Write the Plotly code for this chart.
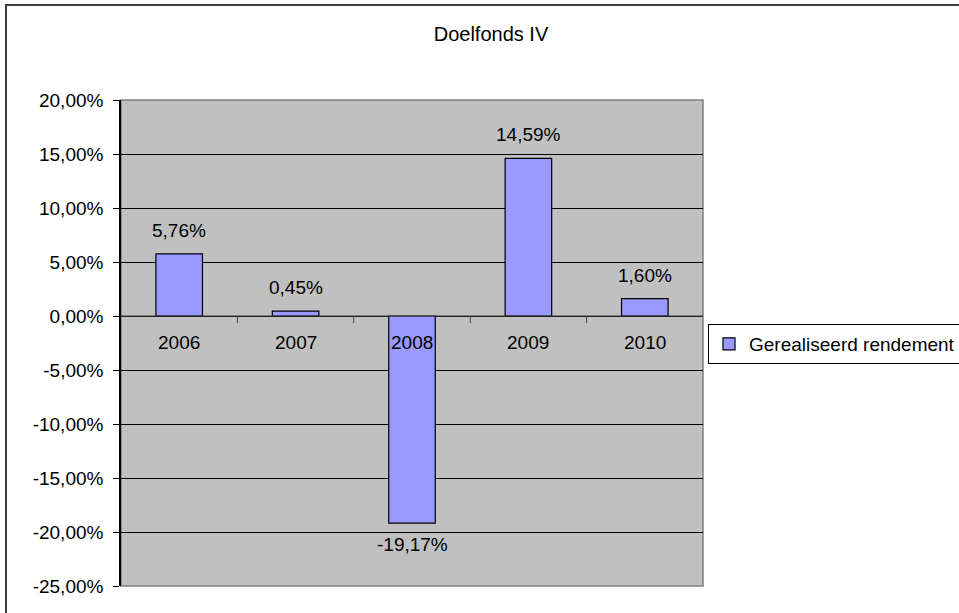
import plotly.graph_objects as go

categories = ["2006", "2007", "2008", "2009", "2010"]
values = [5.76, 0.45, -19.17, 14.59, 1.60]
series_name = "Gerealiseerd rendement"
title_text = "Doelfonds IV"
y_ticks = [20, 15, 10, 5, 0, -5, -10, -15, -20, -25]


def pct(v):
    return f"{v:.2f}".replace(".", ",") + "%"


y_tick_text = [pct(v) for v in y_ticks]
value_text = [pct(v) for v in values]

FONT = "Liberation Sans, Arial, sans-serif"
FS = 19
W, H = 959, 613
L, R, T, B = 121, 256, 100, 27
pw, ph = W - L - R, H - T - B

fig = go.Figure()
fig.add_trace(go.Bar(
    x=list(range(len(categories))), y=values, name=series_name,
    marker=dict(color="#9999FF", line=dict(color="black", width=1.2)),
    width=0.4, showlegend=True, hoverinfo="skip",
))

annotations = []
# category labels just below the zero line
for i, c in enumerate(categories):
    annotations.append(dict(x=i, y=0, xref="x", yref="y", text=c, showarrow=False,
                            yanchor="top", yshift=-14,
                            font=dict(family=FONT, size=FS, color="black")))
# data labels
for i, (v, t) in enumerate(zip(values, value_text)):
    if v >= 0:
        annotations.append(dict(x=i, y=v, xref="x", yref="y", text=t, showarrow=False,
                                yanchor="bottom", yshift=11,
                                font=dict(family=FONT, size=FS, color="black")))
    else:
        annotations.append(dict(x=i, y=v, xref="x", yref="y", text=t, showarrow=False,
                                yanchor="top", yshift=-9,
                                font=dict(family=FONT, size=FS, color="black")))

shapes = []
# plot-area border (gray)
shapes.append(dict(type="rect", xref="paper", yref="paper", x0=0, x1=1, y0=0, y1=1,
                   line=dict(color="#808080", width=1.5), layer="below"))
# zero line
shapes.append(dict(type="line", xref="paper", yref="y", x0=0, x1=1, y0=0, y1=0,
                   line=dict(color="#404040", width=1.2), layer="above"))
# category-boundary ticks on the zero line
for i in range(len(categories) - 1):
    shapes.append(dict(type="line", xref="x", yref="y", ysizemode="pixel", yanchor=0,
                       x0=i + 0.5, x1=i + 0.5, y0=0, y1=-7,
                       line=dict(color="#404040", width=1), layer="above"))
# outer chart border (top/left visible, rest cropped)
shapes.append(dict(type="rect", xref="paper", yref="paper",
                   x0=(6 - L) / pw, x1=2, y0=(H - B - 5) / ph, y1=-1,
                   line=dict(color="#404040", width=2), layer="below"))

fig.update_layout(
    width=W, height=H,
    margin=dict(l=L, r=R, t=T, b=B, pad=0, autoexpand=False),
    paper_bgcolor="white", plot_bgcolor="#C0C0C0",
    font=dict(family=FONT, size=FS, color="black"),
    title=dict(text=title_text, x=491 / W, xanchor="center", y=1 - 34 / H, yanchor="middle",
               yref="container", font=dict(family=FONT, size=20, color="black")),
    xaxis=dict(range=[-0.5, len(categories) - 0.5], showticklabels=False, showgrid=False,
               zeroline=False, showline=False, ticks="", fixedrange=True),
    yaxis=dict(range=[-25, 20], tickvals=y_ticks, ticktext=y_tick_text,
               showgrid=True, gridcolor="black", gridwidth=1, zeroline=False,
               showline=True, linecolor="black", linewidth=1.5,
               ticks="outside", ticklen=6, tickcolor="black", ticklabelstandoff=6,
               tickfont=dict(family=FONT, size=FS, color="black"), fixedrange=True),
    legend=dict(x=(708 - L) / pw, xanchor="left", y=(H - B - 344) / ph, yanchor="middle",
                bordercolor="black", borderwidth=1, bgcolor="white",
                font=dict(family=FONT, size=FS, color="black"),
                itemwidth=30, tracegroupgap=0),
    annotations=annotations, shapes=shapes,
)

fig.write_html("out.html", config={"displayModeBar": False},
               post_script="document.body.style.margin='0';")
